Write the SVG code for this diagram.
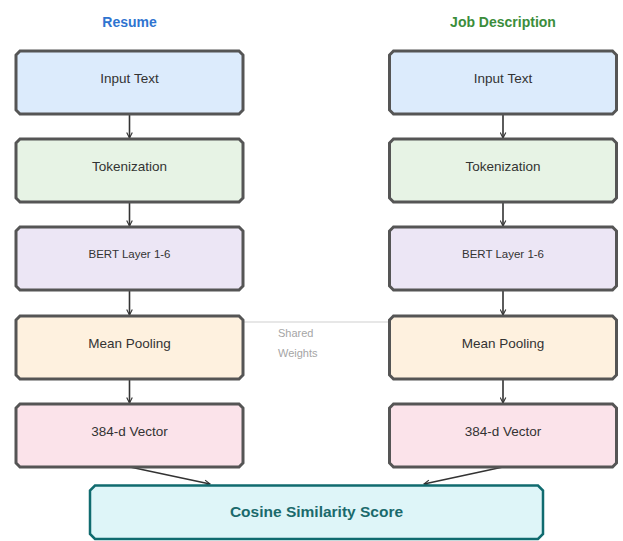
<svg xmlns="http://www.w3.org/2000/svg" width="623" height="541" viewBox="0 0 623 541">
<style>
.box{stroke:#555;stroke-width:3}
.lbl{font-family:"Liberation Sans",Arial,sans-serif;font-size:13.5px;fill:#333;text-anchor:middle}
.sm{font-size:11.5px}
.title{font-family:"Liberation Sans",Arial,sans-serif;font-size:14px;font-weight:bold;text-anchor:middle}
.arrow{stroke:#333;stroke-width:1.6;fill:none;marker-end:url(#ah)}
.input{fill:#dcebfc}.tok{fill:#e7f3e5}.bert{fill:#ece6f5}.pool{fill:#fef1df}.vec{fill:#fbe3ea}
</style>
<defs>
<path id="shape" d="M4,0 H223 L227,4 V59 L223,63 H4 L0,59 V4 Z"/>
<marker id="ah" viewBox="0 0 10 10" refX="9" refY="5" markerWidth="7" markerHeight="7" orient="auto" markerUnits="userSpaceOnUse">
<path d="M1,1 L9,5 L1,9" fill="none" stroke="#333" stroke-width="1.6"/>
</marker>
</defs>
<rect width="623" height="541" fill="#fff"/>
<text class="title" x="129.5" y="27" fill="#2f74d0">Resume</text>
<text class="title" x="503" y="27" fill="#3b8d3b">Job Description</text>
<g id="connectors">
<line class="arrow" x1="129.5" y1="115" x2="129.5" y2="138"/>
<line class="arrow" x1="129.5" y1="203" x2="129.5" y2="226"/>
<line class="arrow" x1="129.5" y1="291" x2="129.5" y2="315"/>
<line class="arrow" x1="129.5" y1="380" x2="129.5" y2="403"/>
<line class="arrow" x1="503" y1="115" x2="503" y2="138"/>
<line class="arrow" x1="503" y1="203" x2="503" y2="226"/>
<line class="arrow" x1="503" y1="291" x2="503" y2="315"/>
<line class="arrow" x1="503" y1="380" x2="503" y2="403"/>
<line class="arrow" x1="130" y1="467" x2="210" y2="484"/>
<line class="arrow" x1="503" y1="467" x2="424" y2="484"/>
<line x1="244" y1="322" x2="389" y2="322" stroke="#cfcfcf" stroke-width="1.2"/>
<text x="278" y="337" font-family="'Liberation Sans',Arial,sans-serif" font-size="11px" fill="#a5a5a5">Shared</text>
<text x="278" y="357" font-family="'Liberation Sans',Arial,sans-serif" font-size="11px" fill="#a5a5a5">Weights</text>
</g>
<g id="r-input" transform="translate(16,51)"><use href="#shape" class="box input"/><text class="lbl" x="113.5" y="31.5">Input Text</text></g>
<g id="r-tok" transform="translate(16,139)"><use href="#shape" class="box tok"/><text class="lbl" x="113.5" y="31.5">Tokenization</text></g>
<g id="r-bert" transform="translate(16,227)"><use href="#shape" class="box bert"/><text class="lbl sm" x="113.5" y="30.5">BERT Layer 1-6</text></g>
<g id="r-pool" transform="translate(16,316)"><use href="#shape" class="box pool"/><text class="lbl" x="113.5" y="31.5">Mean Pooling</text></g>
<g id="r-vec" transform="translate(16,404)"><use href="#shape" class="box vec"/><text class="lbl" x="113.5" y="31.5">384-d Vector</text></g>
<g id="j-input" transform="translate(389.5,51)"><use href="#shape" class="box input"/><text class="lbl" x="113.5" y="31.5">Input Text</text></g>
<g id="j-tok" transform="translate(389.5,139)"><use href="#shape" class="box tok"/><text class="lbl" x="113.5" y="31.5">Tokenization</text></g>
<g id="j-bert" transform="translate(389.5,227)"><use href="#shape" class="box bert"/><text class="lbl sm" x="113.5" y="30.5">BERT Layer 1-6</text></g>
<g id="j-pool" transform="translate(389.5,316)"><use href="#shape" class="box pool"/><text class="lbl" x="113.5" y="31.5">Mean Pooling</text></g>
<g id="j-vec" transform="translate(389.5,404)"><use href="#shape" class="box vec"/><text class="lbl" x="113.5" y="31.5">384-d Vector</text></g>
<g id="cosine">
<path d="M95,485.5 H538 L543,490.5 V534 L538,539 H95 L90,534 V490.5 Z" fill="#def5f8" stroke="#106b6f" stroke-width="2.5"/>
<text x="316.5" y="517" font-family="'Liberation Sans',Arial,sans-serif" font-size="15.5px" font-weight="bold" fill="#1a6a6c" text-anchor="middle">Cosine Similarity Score</text>
</g>
</svg>
